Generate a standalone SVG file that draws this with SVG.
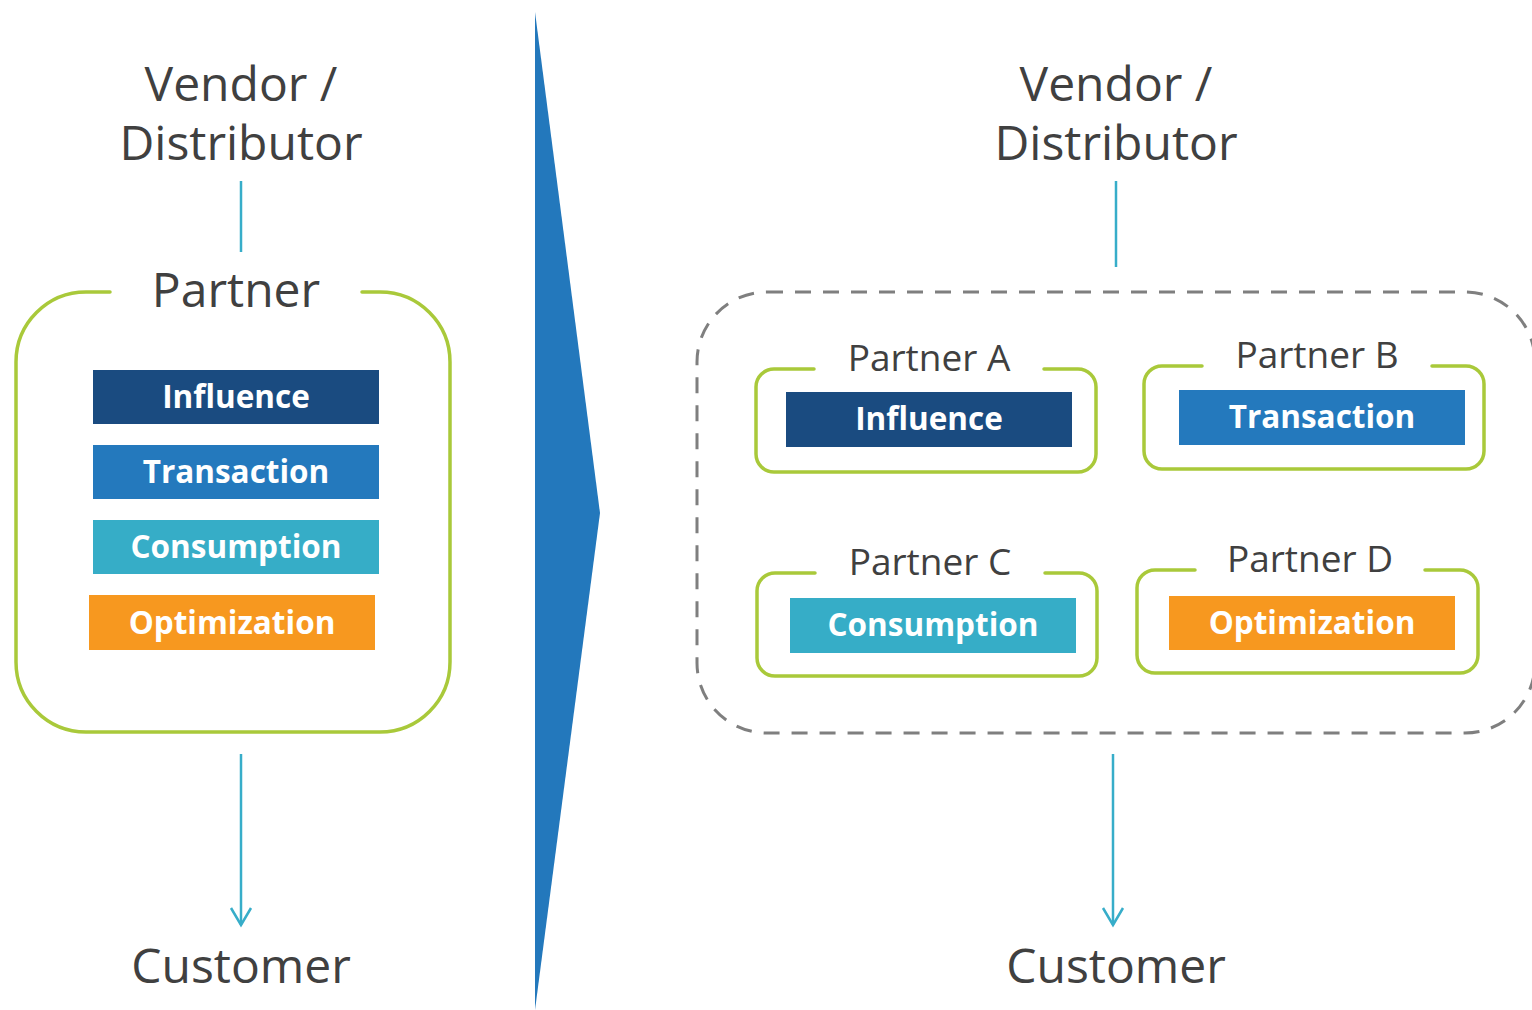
<svg xmlns="http://www.w3.org/2000/svg" width="1532" height="1010" viewBox="0 0 1532 1010">
  <style>
    .title { font-family: "Open Sans", "Liberation Sans", sans-serif; font-size: 48px; fill: #404040; text-anchor: middle; }
    .plabel { font-family: "Open Sans", "Liberation Sans", sans-serif; font-size: 37px; fill: #404040; text-anchor: middle; }
    .btext { font-family: "Open Sans", "Liberation Sans", sans-serif; font-size: 31.5px; font-weight: bold; fill: #ffffff; text-anchor: middle; }
    .frame { fill: none; stroke: #a9c93a; stroke-width: 3.5; stroke-linecap: round; stroke-linejoin: round; }
    .link { fill: none; stroke: #37adc9; stroke-width: 2.5; }
    .influence { fill: #1a4b80; }
    .transaction { fill: #2479bd; }
    .consumption { fill: #36adc7; }
    .optimization { fill: #f7981f; }
  </style>
  <defs>
    <!-- open chevron arrowhead, drawn pointing along +x -->
    <marker id="chev" markerWidth="22" markerHeight="24" viewBox="0 0 22 24" refX="19" refY="12" orient="auto" markerUnits="userSpaceOnUse">
      <path d="M2,2 L19,12 L2,22" fill="none" stroke="#37adc9" stroke-width="2.5"/>
    </marker>
  </defs>
  <rect width="1532" height="1010" fill="#ffffff"/>

  <!-- transition chevron between the two models -->
  <polygon id="transition" points="535,12 600,513 535,1010" fill="#2378bc"/>

  <!-- left model: single partner -->
  <g id="vendor-left">
    <text class="title" x="241" y="101">Vendor /</text>
    <text class="title" x="241" y="160">Distributor</text>
  </g>
  <g id="partner-left">
    <path class="frame" d="M110,292 H86 A70,70 0 0 0 16,362 V662 A70,70 0 0 0 86,732 H380 A70,70 0 0 0 450,662 V362 A70,70 0 0 0 380,292 H362"/>
    <text class="title" x="236" y="307">Partner</text>
    <rect class="influence" x="93" y="370" width="286" height="54"/>
    <text class="btext" x="236" y="408">Influence</text>
    <rect class="transaction" x="93" y="445" width="286" height="54"/>
    <text class="btext" x="236" y="483">Transaction</text>
    <rect class="consumption" x="93" y="520" width="286" height="54"/>
    <text class="btext" x="236" y="558">Consumption</text>
    <rect class="optimization" x="89" y="595" width="286" height="55"/>
    <text class="btext" x="232" y="634">Optimization</text>
  </g>
  <g id="customer-left">
    <text class="title" x="241" y="983">Customer</text>
  </g>

  <!-- right model: partner ecosystem -->
  <g id="vendor-right">
    <text class="title" x="1116" y="101">Vendor /</text>
    <text class="title" x="1116" y="160">Distributor</text>
  </g>
  <g id="ecosystem">
    <rect x="697" y="292" width="838" height="441" rx="70" ry="70" fill="none" stroke="#7f7f7f" stroke-width="3" stroke-dasharray="16 12"/>
  </g>
  <g id="partner-a">
    <path class="frame" d="M814,369 H774 A18,18 0 0 0 756,387 V454 A18,18 0 0 0 774,472 H1078 A18,18 0 0 0 1096,454 V387 A18,18 0 0 0 1078,369 H1044"/>
    <text class="plabel" x="929" y="371">Partner A</text>
    <rect class="influence" x="786" y="392" width="286" height="55"/>
    <text class="btext" x="929" y="430">Influence</text>
  </g>
  <g id="partner-b">
    <path class="frame" d="M1202,366 H1162 A18,18 0 0 0 1144,384 V451 A18,18 0 0 0 1162,469 H1466 A18,18 0 0 0 1484,451 V384 A18,18 0 0 0 1466,366 H1432"/>
    <text class="plabel" x="1317" y="368">Partner B</text>
    <rect class="transaction" x="1179" y="390" width="286" height="55"/>
    <text class="btext" x="1322" y="428">Transaction</text>
  </g>
  <g id="partner-c">
    <path class="frame" d="M815,573 H775 A18,18 0 0 0 757,591 V658 A18,18 0 0 0 775,676 H1079 A18,18 0 0 0 1097,658 V591 A18,18 0 0 0 1079,573 H1045"/>
    <text class="plabel" x="930" y="575">Partner C</text>
    <rect class="consumption" x="790" y="598" width="286" height="55"/>
    <text class="btext" x="933" y="636">Consumption</text>
  </g>
  <g id="partner-d">
    <path class="frame" d="M1195,570 H1155 A18,18 0 0 0 1137,588 V655 A18,18 0 0 0 1155,673 H1460 A18,18 0 0 0 1478,655 V588 A18,18 0 0 0 1460,570 H1425"/>
    <text class="plabel" x="1310" y="572">Partner D</text>
    <rect class="optimization" x="1169" y="596" width="286" height="54"/>
    <text class="btext" x="1312" y="634">Optimization</text>
  </g>
  <g id="customer-right">
    <text class="title" x="1116" y="983">Customer</text>
  </g>

  <!-- connectors -->
  <g id="connectors">
    <line class="link" x1="241" y1="181" x2="241" y2="252"/>
    <line class="link" x1="241" y1="754" x2="241" y2="925" marker-end="url(#chev)"/>
    <line class="link" x1="1116" y1="181" x2="1116" y2="267"/>
    <line class="link" x1="1113" y1="754" x2="1113" y2="925" marker-end="url(#chev)"/>
  </g>
</svg>
